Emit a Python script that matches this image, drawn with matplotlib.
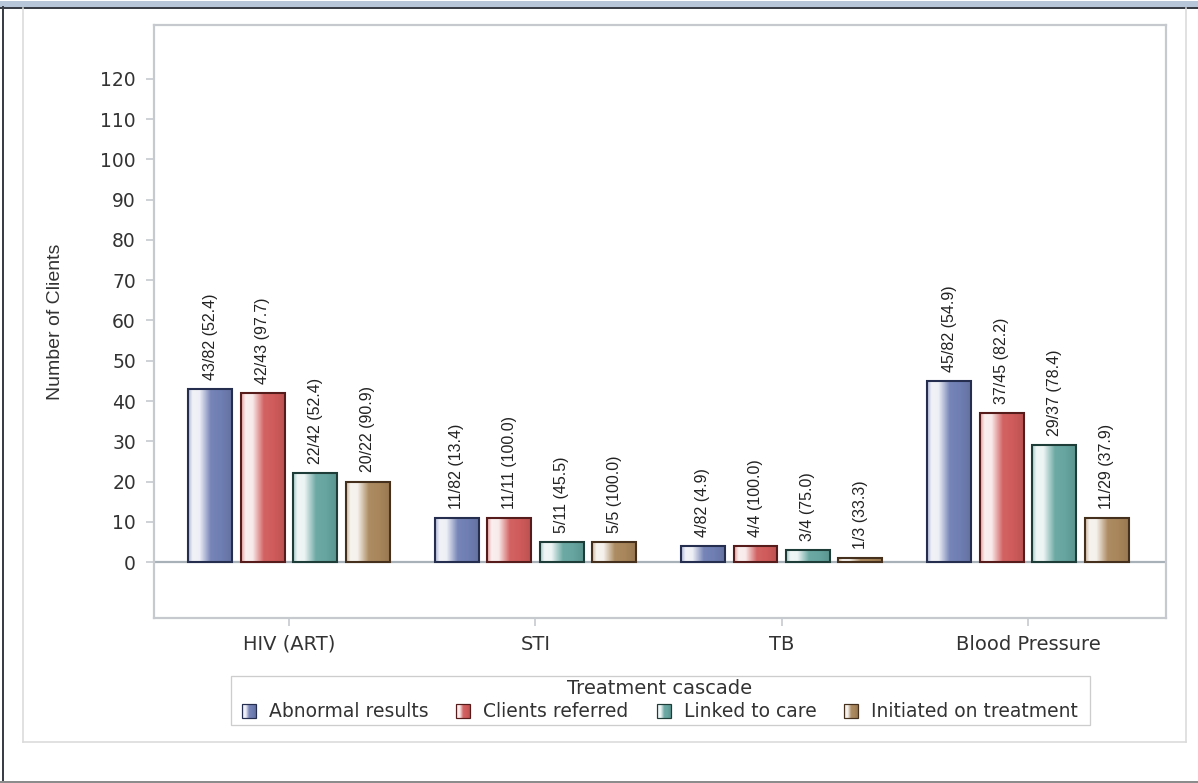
import numpy as np
import matplotlib
matplotlib.use("Agg")
import matplotlib.pyplot as plt
import matplotlib.colors as mcolors
from matplotlib.patches import Rectangle
from matplotlib.lines import Line2D
from matplotlib import font_manager

# ---- data -------------------------------------------------------------
categories = ["HIV (ART)", "STI", "TB", "Blood Pressure"]
series = ["Abnormal results", "Clients referred", "Linked to care", "Initiated on treatment"]
total_screened = 82
abnormal = [43, 11, 4, 45]
referred = [42, 11, 4, 37]
linked = [22, 5, 3, 29]
initiated = [20, 5, 1, 11]
y_ticks = list(range(0, 121, 10))

steps = [abnormal, referred, linked, initiated]
# each step is expressed as a share of the step before it
bases = [[total_screened] * len(categories), abnormal, referred, linked]

# ---- style ------------------------------------------------------------
face = ["#6F7EB3", "#D05B5B", "#66A5A0", "#A9865B"]
edge = ["#262E50", "#561C1C", "#1E3D39", "#44301C"]
text_col = "#333333"
frame_col = "#C6CACE"

available = {f.name for f in font_manager.fontManager.ttflist}
narrow = "Liberation Sans Narrow" if "Liberation Sans Narrow" in available else "Liberation Sans"
label_size = 13 if narrow == "Liberation Sans Narrow" else 11.5


def shade(base, n=128):
    """Horizontal highlight: bright sheen near the left edge, full colour to the right."""
    rgb = np.array(mcolors.to_rgb(base))
    t = np.linspace(0, 1, n)
    w = np.interp(t, [0.0, 0.1, 0.26, 0.52, 0.75, 1.0],
                  [0.4, 0.9, 0.88, 0.05, 0.0, -0.1])[:, None]
    cols = np.where(w >= 0, rgb + w * (1 - rgb), rgb * (1 + w))
    return np.clip(cols, 0, 1)[None, :, :]


W, H = 1198, 783
fig = plt.figure(figsize=(W / 100, H / 100), dpi=100)
fig.patch.set_facecolor("white")

# page frame drawn in pixel units
bg = fig.add_axes([0, 0, 1, 1])
bg.set_xlim(0, W)
bg.set_ylim(H, 0)
bg.axis("off")
px = 0.72  # one pixel in points
bg.add_patch(Rectangle((0, 1), W, 6, color="#B8C6DA", lw=0))
bg.add_line(Line2D([0, W], [7.8, 7.8], color="#3A3E46", lw=2 * px))
bg.add_line(Line2D([3, 3], [7, H], color="#3A3E46", lw=2 * px))
bg.add_line(Line2D([0, W], [781.5, 781.5], color="#8C8C8C", lw=2 * px))
for xs, ys in [([23, 23], [8, 742]), ([23, 1186], [742, 742]), ([1186, 1186], [8, 742])]:
    bg.add_line(Line2D(xs, ys, color="#DADADA", lw=1.6 * px))

# ---- main plot --------------------------------------------------------
ax = fig.add_axes([154 / W, 1 - 618 / H, 1012 / W, 593 / H])
x = np.arange(len(categories))
step = 0.213
width = 0.178
offsets = (np.arange(len(series)) - (len(series) - 1) / 2) * step

ax.axhline(0, color="#A9B1B8", lw=1.6, zorder=1)

for i, (vals, base) in enumerate(zip(steps, bases)):
    xs = x + offsets[i]
    bars = ax.bar(xs, vals, width, color=face[i], edgecolor="none", zorder=2)
    grad = shade(face[i])
    for patch in bars.patches:
        x0, w_ = patch.get_x(), patch.get_width()
        h = patch.get_height()
        im = ax.imshow(grad, extent=(x0, x0 + w_, 0, h), aspect="auto",
                       interpolation="bilinear", zorder=3)
        im.set_clip_path(patch)
    ax.bar(xs, vals, width, fill=False, edgecolor=edge[i], lw=1.5, zorder=4)
    for xc, v, b in zip(xs, vals, base):
        ax.annotate(f"{v}/{b} ({100 * v / b:.1f})", (xc, v), xytext=(0, 6.5),
                    textcoords="offset points", rotation=90, ha="center", va="bottom",
                    fontsize=label_size, family=narrow, color="#222222", zorder=5)

ax.set_xlim(-0.548, 3.56)
ax.set_ylim(-13.9, 133.4)
ax.set_yticks(y_ticks)
ax.set_xticks(x)
ax.set_xticklabels(categories)
ax.tick_params(axis="both", colors=frame_col, length=6, width=1.2)
ax.tick_params(axis="x", labelsize=14, labelcolor=text_col, pad=6)
ax.tick_params(axis="y", labelsize=13.5, labelcolor=text_col, pad=7)
for lab in ax.get_xticklabels() + ax.get_yticklabels():
    lab.set_family("DejaVu Sans")
for sp in ax.spines.values():
    sp.set_color(frame_col)
    sp.set_linewidth(1.6)
ax.set_ylabel("Number of Clients", fontsize=14, family="Liberation Sans", color=text_col)
ax.yaxis.set_label_coords(-0.089, 0.5)

# ---- legend -----------------------------------------------------------
bg.add_patch(Rectangle((231, 676), 859, 49, fill=False, ec="#CDCDCD", lw=1.3 * px))
bg.text(660, 688.5, "Treatment cascade", ha="center", va="center", fontsize=14,
        family="DejaVu Sans", color=text_col)
renderer = fig.canvas.get_renderer()
sq, gap_in, gap_out = 14, 13, 28
texts = [bg.text(0, 711.5, name, ha="left", va="center", fontsize=13.5,
                 family="DejaVu Sans", color=text_col) for name in series]
widths = [t.get_window_extent(renderer).width for t in texts]
row = sum(sq + gap_in + w_ for w_ in widths) + gap_out * (len(series) - 1)
cx = 660 - row / 2
for i, t in enumerate(texts):
    bg.imshow(shade(face[i], 32), extent=(cx, cx + sq, 718, 704), aspect="auto",
              interpolation="bilinear", zorder=2)
    bg.add_patch(Rectangle((cx, 704), sq, sq, fill=False, ec=edge[i], lw=1.2 * px, zorder=3))
    t.set_x(cx + sq + gap_in)
    cx += sq + gap_in + widths[i] + gap_out
bg.set_xlim(0, W)
bg.set_ylim(H, 0)

fig.savefig("out.png", dpi=100, facecolor="white")
